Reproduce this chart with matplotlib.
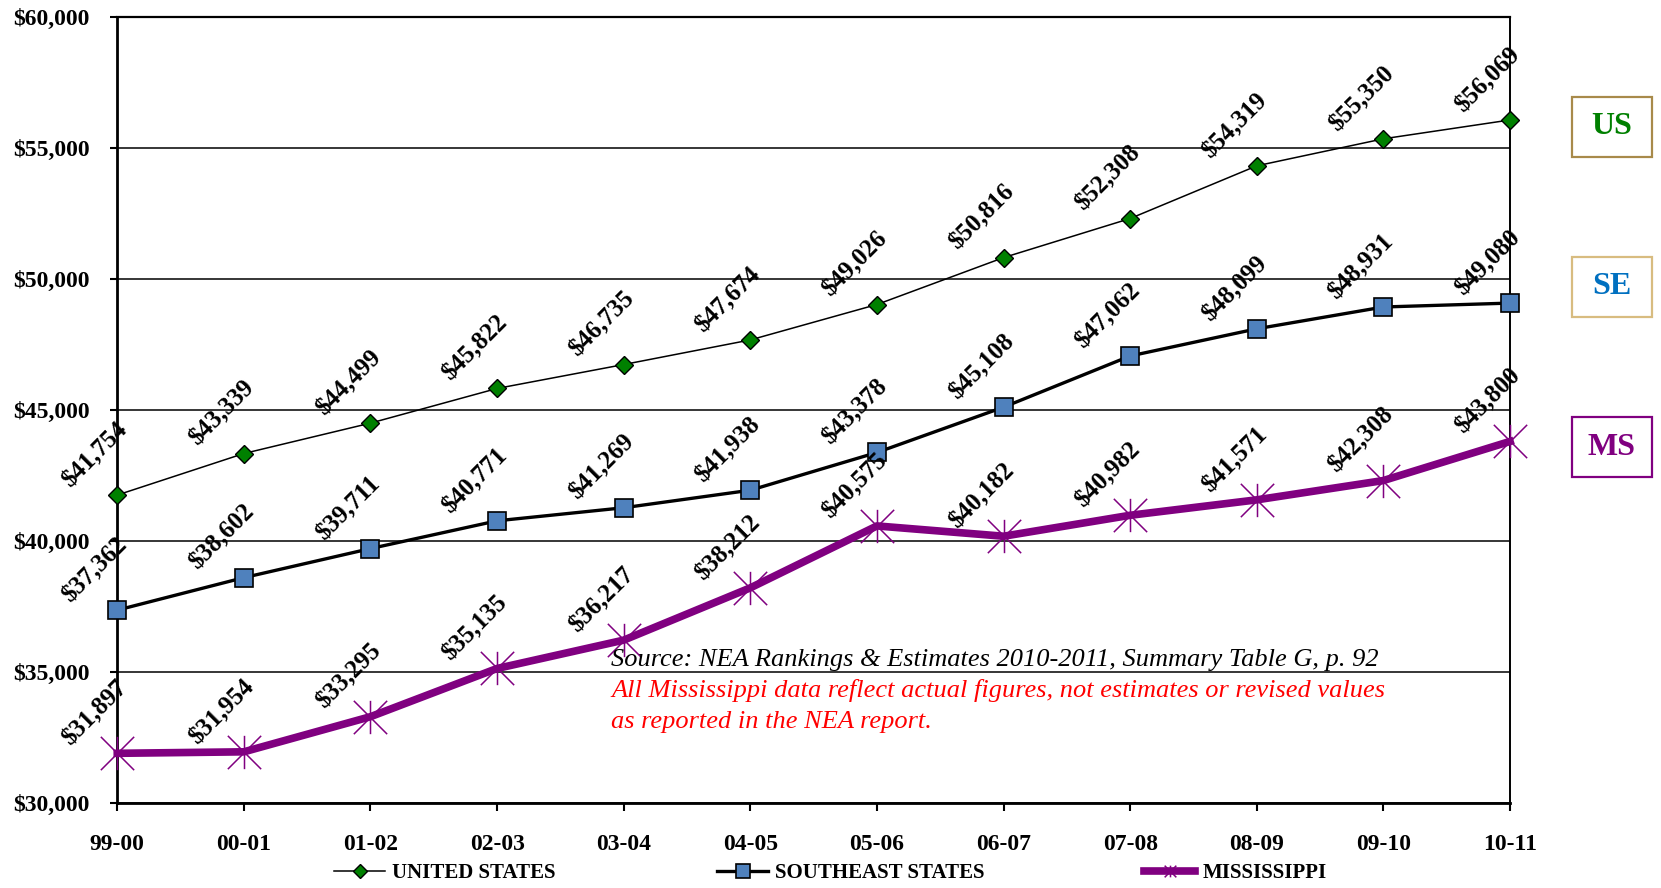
import matplotlib
matplotlib.use("Agg")
import matplotlib.pyplot as plt
from matplotlib.path import Path
from matplotlib.patches import Rectangle
from matplotlib.ticker import FuncFormatter, MultipleLocator

plt.rcParams['font.family'] = 'Liberation Serif'

# school years and average teacher salaries
years = ['99-00', '00-01', '01-02', '02-03', '03-04', '04-05',
         '05-06', '06-07', '07-08', '08-09', '09-10', '10-11']
us = [41754, 43339, 44499, 45822, 46735, 47674, 49026, 50816, 52308, 54319, 55350, 56069]
se = [37362, 38602, 39711, 40771, 41269, 41938, 43378, 45108, 47062, 48099, 48931, 49080]
ms = [31897, 31954, 33295, 35135, 36217, 38212, 40575, 40182, 40982, 41571, 42308, 43800]

source_note = 'Source: NEA Rankings & Estimates 2010-2011, Summary Table G, p. 92'
red_note = ['All Mississippi data reflect actual figures, not estimates or revised values',
            'as reported in the NEA report.']

green = '#008000'
blue = '#4F81BD'
purple = '#800080'

# excel style star marker: an X with a vertical bar through it
star = Path([(-1, -1), (1, 1), (-1, 1), (1, -1), (0, -1), (0, 1)],
            [Path.MOVETO, Path.LINETO, Path.MOVETO, Path.LINETO, Path.MOVETO, Path.LINETO])

fig = plt.figure(figsize=(16.61, 8.88), dpi=100)
ax = fig.add_axes([0.0706, 0.0957, 0.8385, 0.8852])

x = list(range(len(years)))
l_us, = ax.plot(x, us, color='black', lw=1.1, marker='D', ms=9, mfc=green, mec='black',
                mew=1, clip_on=False, zorder=5)
l_se, = ax.plot(x, se, color='black', lw=2.4, marker='s', ms=13, mfc=blue, mec='black',
                mew=1.2, clip_on=False, zorder=5)
l_ms, = ax.plot(x, ms, color=purple, lw=5.5, marker=star, ms=24, mec=purple, mew=1.1,
                clip_on=False, zorder=6)

for series in (us, se, ms):
    for i, v in enumerate(series):
        ax.annotate('${:,}'.format(v), (i, v), xytext=(-16, 29), textcoords='offset points',
                    ha='center', va='center', rotation=45, fontsize=18, fontweight='bold',
                    zorder=8)

ax.set_xlim(0, 11)
ax.set_ylim(30000, 60000)
ax.set_xticks(x)
ax.set_xticklabels(years)
ax.yaxis.set_major_locator(MultipleLocator(5000))
ax.yaxis.set_major_formatter(FuncFormatter(lambda v, p: '${:,.0f}'.format(v)))
for lab in ax.get_xticklabels() + ax.get_yticklabels():
    lab.set_fontweight('bold')
ax.tick_params(axis='y', direction='out', length=5, width=1.5, pad=15, labelsize=17)
ax.tick_params(axis='x', direction='out', length=6, width=1.5, pad=16, labelsize=17)
ax.grid(axis='y', color='black', lw=1.1)
ax.set_axisbelow(True)
for side in ('left', 'bottom'):
    ax.spines[side].set_linewidth(2)
ax.spines['top'].set_linewidth(1.6)
ax.spines['right'].set_linewidth(1.4)

# legend entries, placed one by one below the axis
for h, lab, xpos, mscale in [(l_us, 'UNITED STATES', 334, 0.75),
                             (l_se, 'SOUTHEAST STATES', 717, 0.8),
                             (l_ms, 'MISSISSIPPI', 1144, 0.35)]:
    fig.legend([h], [lab], loc='center left', bbox_to_anchor=(xpos / 1661, 1 - 873 / 888),
               frameon=False, borderpad=0, borderaxespad=0, handlelength=2.45,
               handletextpad=0.35, markerscale=mscale,
               prop={'size': 15, 'weight': 'bold'})

fig.text(611 / 1661, 1 - 666 / 888, source_note, fontsize=19, style='italic',
         va='baseline', color='black')
fig.text(611 / 1661, 1 - 697 / 888, red_note[0], fontsize=19, style='italic',
         va='baseline', color='red')
fig.text(611 / 1661, 1 - 728 / 888, red_note[1], fontsize=19, style='italic',
         va='baseline', color='red')

# side boxes naming each line
for lab, top, edge, col in [('US', 97, '#A88A4A', green),
                            ('SE', 257, '#D8BC80', '#0070C0'),
                            ('MS', 417, purple, purple)]:
    fig.add_artist(Rectangle((1572 / 1661, 1 - (top + 60) / 888), 80 / 1661, 60 / 888,
                             transform=fig.transFigure, fill=False, ec=edge, lw=1.6))
    fig.text(1612 / 1661, 1 - (top + 30) / 888, lab, fontsize=23, fontweight='bold',
             color=col, ha='center', va='center')

fig.savefig('out.png', dpi=100)
